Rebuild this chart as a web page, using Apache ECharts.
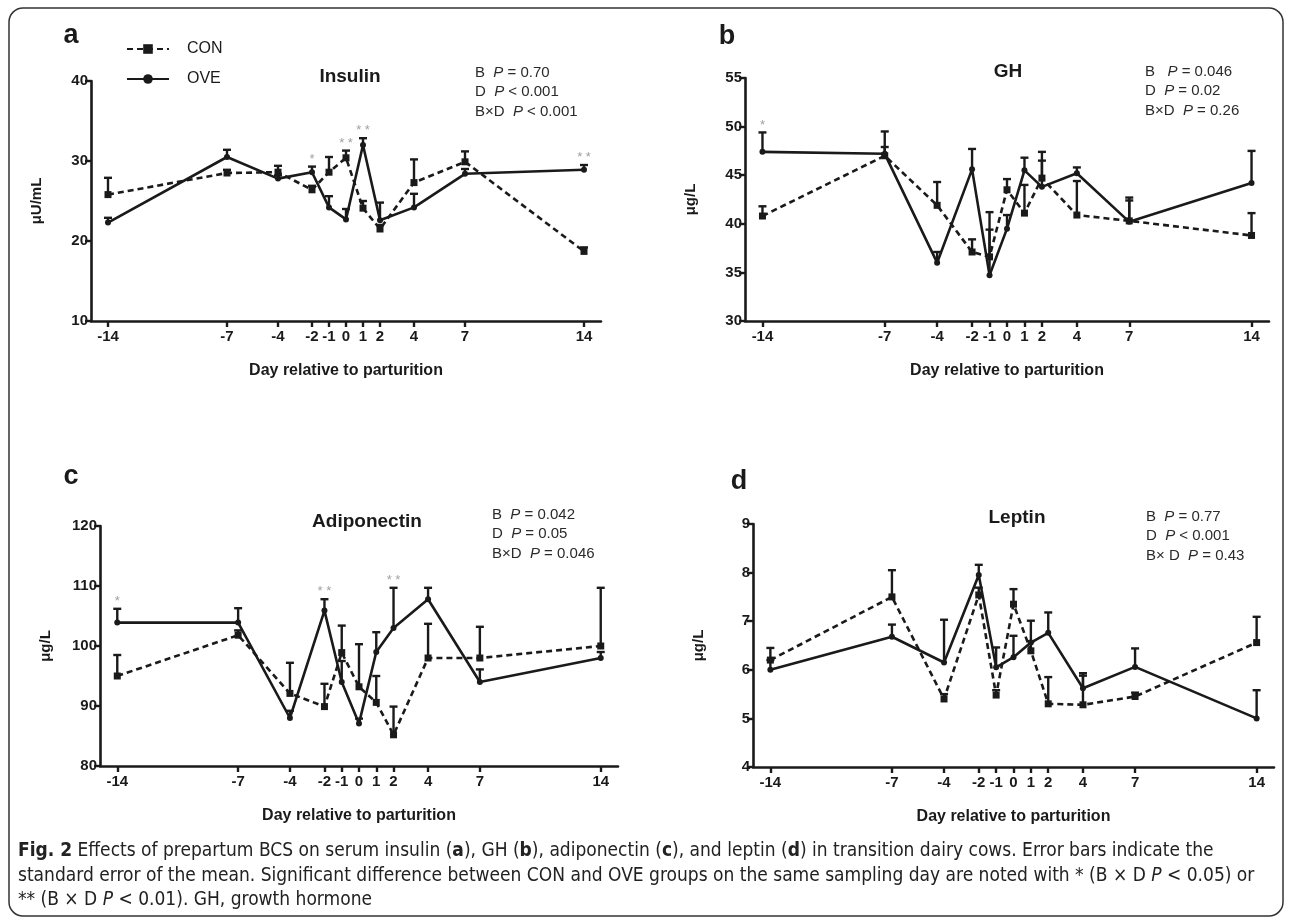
<!DOCTYPE html>
<html>
<head>
<meta charset="utf-8">
<script src="https://cdn.jsdelivr.net/npm/echarts@6/dist/echarts.min.js"></script>
<style>
  html, body { margin: 0; padding: 0; background: #fff; }
  #chart { width: 1290px; height: 921px; }
</style>
</head>
<body>
<div id="chart"></div>
<script>
// sampling days
const days = [-14, -7, -4, -2, -1, 0, 1, 2, 4, 7, 14]

// insulin, uU/mL (mean and SE)
const insulinCon = [25.8, 28.5, 28.6, 26.4, 28.6, 30.4, 24.1, 21.5, 27.3, 29.9, 18.7]
const insulinConSe = [2.1, 0.4, 0.8, 0.5, 1.9, 0.9, 0.9, 0.5, 2.9, 1.3, 0.5]
const insulinOve = [22.3, 30.5, 27.8, 28.6, 24.2, 22.7, 32.0, 22.6, 24.2, 28.4, 28.9]
const insulinOveSe = [0.6, 0.9, 0.4, 0.7, 1.4, 1.3, 0.85, 2.2, 1.7, 0.6, 0.6]
const insulinStars = [[-2, '*'], [0, '* *'], [1, '* *'], [14, '* *']]

// GH, ug/L
const ghCon = [40.8, 47.0, 41.9, 37.1, 36.6, 43.5, 41.1, 44.7, 40.9, 40.3, 38.8]
const ghConSe = [1.0, 0.9, 2.4, 1.3, 4.6, 1.1, 2.9, 2.7, 3.5, 2.1, 2.3]
const ghOve = [47.4, 47.2, 36.0, 45.6, 34.7, 39.5, 45.5, 43.8, 45.2, 40.2, 44.2]
const ghOveSe = [2.0, 2.3, 1.1, 2.1, 4.7, 1.4, 1.3, 2.7, 0.6, 2.5, 3.3]
const ghStars = [[-14, '*']]

// adiponectin, ug/L
const adipoCon = [95.0, 101.8, 92.1, 89.9, 98.9, 93.2, 90.6, 85.2, 98.0, 98.0, 100.0]
const adipoConSe = [3.5, 0.8, 5.1, 3.8, 4.5, 7.1, 4.4, 4.7, 5.7, 5.2, 9.7]
const adipoOve = [103.9, 103.9, 88.0, 105.9, 94.0, 87.1, 99.0, 103.0, 107.8, 94.0, 98.0]
const adipoOveSe = [2.3, 2.4, 1.2, 1.9, 3.5, 0.8, 3.3, 6.7, 1.9, 2.1, 1.0]
const adipoStars = [[-14, '*'], [-2, '* *'], [2, '* *']]

// leptin, ug/L
const leptinCon = [6.2, 7.5, 5.4, 7.54, 5.48, 7.35, 6.39, 5.30, 5.28, 5.45, 6.56]
const leptinConSe = [0.25, 0.55, 0.1, 0.15, 0.1, 0.31, 0.2, 0.55, 0.6, 0.08, 0.53]
const leptinOve = [6.0, 6.68, 6.15, 7.95, 6.05, 6.26, 6.56, 6.76, 5.62, 6.06, 5.0]
const leptinOveSe = [0.2, 0.25, 0.88, 0.21, 0.41, 0.44, 0.45, 0.42, 0.31, 0.38, 0.58]
const leptinStars = []

const panelLetters = ['a', 'b', 'c', 'd']
const panelTitles = ['Insulin', 'GH', 'Adiponectin', 'Leptin']
const yNames = ['μU/mL', 'μg/L', 'μg/L', 'μg/L']
const yRanges = [[10, 40, 10], [30, 55, 5], [80, 120, 10], [4, 9, 1]]
const statTexts = [
  [['B  ', '= 0.70'], ['D  ', '< 0.001'], ['B×D  ', '< 0.001']],
  [['B   ', '= 0.046'], ['D  ', '= 0.02'], ['B×D  ', '= 0.26']],
  [['B  ', '= 0.042'], ['D  ', '= 0.05'], ['B×D  ', '= 0.046']],
  [['B  ', '= 0.77'], ['D  ', '< 0.001'], ['B× D  ', '= 0.43']],
]

const FONT = "'Liberation Sans', Arial, sans-serif"
const INK = '#1a1a1a'

// layout (px)
const grids = [
  { left: 91, top: 81, width: 510, height: 240 },
  { left: 745, top: 78, width: 524, height: 243 },
  { left: 100, top: 526, width: 518, height: 240 },
  { left: 753, top: 524, width: 521, height: 243 },
]
const letterPos = [[71, 36], [727, 37], [71, 477], [739, 482]]
const titlePos = [[350, 77], [1008, 72], [367, 522], [1017, 518]]
const statPos = [[475, 63], [1145, 62], [492, 505], [1146, 507]]

const panels = [
  [insulinCon, insulinConSe, insulinOve, insulinOveSe, insulinStars],
  [ghCon, ghConSe, ghOve, ghOveSe, ghStars],
  [adipoCon, adipoConSe, adipoOve, adipoOveSe, adipoStars],
  [leptinCon, leptinConSe, leptinOve, leptinOveSe, leptinStars],
]

function errRender(params, api) {
  const x = api.value(0)
  const p0 = api.coord([x, api.value(1)])
  const p1 = api.coord([x, api.value(2)])
  const cap = 4
  const st = { stroke: INK, lineWidth: 2.4 }
  return {
    type: 'group',
    children: [
      { type: 'line', shape: { x1: p0[0], y1: p0[1], x2: p1[0], y2: p1[1] }, style: st },
      { type: 'line', shape: { x1: p1[0] - cap, y1: p1[1], x2: p1[0] + cap, y2: p1[1] }, style: st },
    ],
  }
}

const series = []
panels.forEach(([con, conSe, ove, oveSe, stars], i) => {
  const ax = { xAxisIndex: i, yAxisIndex: i }
  series.push({
    ...ax,
    type: 'custom',
    renderItem: errRender,
    encode: { x: 0, y: [1, 2] },
    data: days.map((d, k) => [d, con[k], con[k] + conSe[k]]),
    silent: true,
    z: 1,
  })
  series.push({
    ...ax,
    type: 'custom',
    renderItem: errRender,
    encode: { x: 0, y: [1, 2] },
    data: days.map((d, k) => [d, ove[k], ove[k] + oveSe[k]]),
    silent: true,
    z: 1,
  })
  series.push({
    ...ax,
    name: 'CON',
    type: 'line',
    data: days.map((d, k) => [d, con[k]]),
    symbol: 'rect',
    symbolSize: 7,
    itemStyle: { color: INK },
    lineStyle: { color: INK, width: 2.6, type: [6, 4] },
    animation: false,
    z: 3,
  })
  series.push({
    ...ax,
    name: 'OVE',
    type: 'line',
    data: days.map((d, k) => [d, ove[k]]),
    symbol: 'circle',
    symbolSize: 6,
    itemStyle: { color: INK },
    lineStyle: { color: INK, width: 2.6 },
    animation: false,
    z: 3,
  })
  series.push({
    ...ax,
    type: 'scatter',
    symbolSize: 0,
    silent: true,
    data: stars.map(([d, s]) => {
      const k = days.indexOf(d)
      return { value: [d, Math.max(con[k] + conSe[k], ove[k] + oveSe[k])], label: { formatter: s } }
    }),
    label: { show: true, position: 'top', distance: 1, color: '#8a8a8a', fontSize: 13, fontFamily: FONT },
  })
})

const graphic = []
graphic.push({
  type: 'rect',
  shape: { x: 9, y: 8, width: 1274, height: 908, r: 14 },
  style: { fill: 'none', stroke: '#333', lineWidth: 1.5 },
  silent: true,
})
panelLetters.forEach((t, i) => {
  graphic.push({
    type: 'text', x: letterPos[i][0], y: letterPos[i][1],
    style: { text: t, font: `bold 27px ${FONT}`, fill: INK, align: 'center', verticalAlign: 'middle' },
  })
  graphic.push({
    type: 'text', x: titlePos[i][0], y: titlePos[i][1],
    style: { text: panelTitles[i], font: `bold 19px ${FONT}`, fill: INK, align: 'center', verticalAlign: 'middle' },
  })
  const txt = statTexts[i].map(([a, b]) => `{n|${a}}{i|P}{n| ${b}}`).join('\n')
  graphic.push({
    type: 'text', x: statPos[i][0], y: statPos[i][1],
    style: {
      text: txt,
      rich: {
        n: { fontSize: 15, fontFamily: FONT, fill: '#2a2a2a', lineHeight: 19.5 },
        i: { fontSize: 15, fontFamily: FONT, fontStyle: 'italic', fill: '#2a2a2a', lineHeight: 19.5 },
      },
    },
  })
})

// caption, font size fitted to the reference line width
const CAP_FONT = "'Liberation Sans Narrow', 'DejaVu Sans Condensed', 'Roboto Condensed', sans-serif"
const capLines = [
  [['b', 'Fig. 2'], ['n', ' Effects of prepartum BCS on serum insulin ('], ['b', 'a'], ['n', '), GH ('], ['b', 'b'], ['n', '), adiponectin ('], ['b', 'c'], ['n', '), and leptin ('], ['b', 'd'], ['n', ') in transition dairy cows. Error bars indicate the']],
  [['n', 'standard error of the mean. Significant difference between CON and OVE groups on the same sampling day are noted with * (B × D '], ['i', 'P'], ['n', ' < 0.05) or']],
  [['n', '** (B × D '], ['i', 'P'], ['n', ' < 0.01). GH, growth hormone']],
]
const cvs = document.createElement('canvas').getContext('2d')
cvs.font = `100px ${CAP_FONT}`
const w100 = cvs.measureText(capLines[0].map(p => p[1]).join('')).width
const capSize = Math.min(19, 100 * 1227 / w100)
const capY = [851, 876, 900]
capLines.forEach((parts, li) => {
  graphic.push({
    type: 'text', x: 18, y: capY[li],
    style: {
      text: parts.map(([s, t]) => `{${s}|${t}}`).join(''),
      verticalAlign: 'middle',
      rich: {
        n: { fontSize: capSize, fontFamily: CAP_FONT, fill: '#222' },
        b: { fontSize: capSize, fontFamily: CAP_FONT, fontWeight: 'bold', fill: '#222' },
        i: { fontSize: capSize, fontFamily: CAP_FONT, fontStyle: 'italic', fill: '#222' },
      },
    },
  })
})

const option = {
  backgroundColor: '#fff',
  animation: false,
  textStyle: { fontFamily: FONT },
  legend: {
    data: ['CON', 'OVE'],
    orient: 'vertical',
    left: 121,
    top: 36,
    itemWidth: 42,
    itemHeight: 12,
    itemGap: 14,
    textStyle: { fontSize: 16, color: INK, fontFamily: FONT, padding: [0, 0, 0, 13] },
  },
  grid: grids.map(g => ({ ...g, outerBoundsMode: 'none', containLabel: false })),
  xAxis: grids.map((g, i) => ({
    gridIndex: i,
    type: 'value',
    min: -15,
    max: 15,
    splitLine: { show: false },
    axisLine: { onZero: false, lineStyle: { color: INK, width: 2.6 } },
    axisTick: { customValues: days, length: 6, lineStyle: { color: INK, width: 2.4 } },
    axisLabel: { customValues: days, fontWeight: 'bold', fontSize: 15, color: INK, margin: 8, fontFamily: FONT },
    name: 'Day relative to parturition',
    nameLocation: 'middle',
    nameGap: 42,
    nameTextStyle: { fontWeight: 'bold', fontSize: 16, color: INK, fontFamily: FONT },
  })),
  yAxis: grids.map((g, i) => ({
    gridIndex: i,
    type: 'value',
    min: yRanges[i][0],
    max: yRanges[i][1],
    interval: yRanges[i][2],
    splitLine: { show: false },
    axisLine: { show: true, onZero: false, lineStyle: { color: INK, width: 2.6 } },
    axisTick: { show: true, length: 6, lineStyle: { color: INK, width: 2.4 } },
    axisLabel: { fontWeight: 'bold', fontSize: 15, color: INK, margin: 3, fontFamily: FONT },
    name: yNames[i],
    nameLocation: 'middle',
    nameGap: 47,
    nameTextStyle: { fontWeight: 'bold', fontSize: 15, color: INK, fontFamily: FONT },
  })),
  series,
  graphic,
}

const chart = echarts.init(document.getElementById('chart'))
chart.setOption(option)
</script>
</body>
</html>
